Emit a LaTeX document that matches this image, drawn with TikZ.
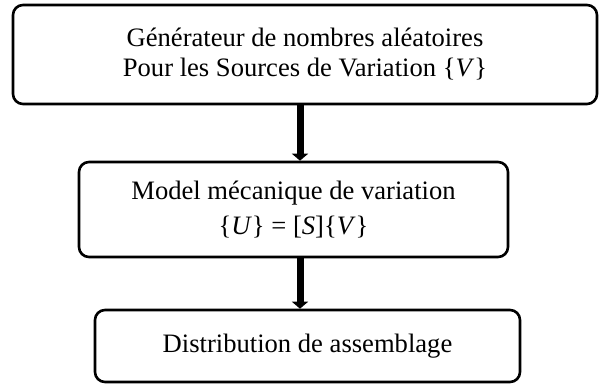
\documentclass[tikz,border=0pt]{standalone}
\usepackage{fontspec}
\setmainfont{Liberation Serif}
\usetikzlibrary{arrows.meta}
\begin{document}
\begin{tikzpicture}
[boxdecorate/.style={shape=rectangle,rounded corners=5pt,draw,line width=1.3pt,%
    align=center,inner sep=0pt,font=\fontsize{13.3}{15}\selectfont},%
  arrowdecorate/.style={-{Triangle[width=8pt,length=3.5pt]},line width=3.5pt},%
  x=1pt,y=1pt]
\useasboundingbox (0,0) rectangle (300.5,192.5);
%% nodes or boxes
\foreach \nodename/\x/\y/\w/\h/\boxtext in {
  gen/152.5/165.25/292/49.5/{Générateur de nombres aléatoires\\Pour les Sources de Variation \{\textit{V}\}},
  model/146.75/87.75/214.5/47.5/{Model mécanique de variation\\[2.5pt]\{\textit{U}\} = [\textit{S}]\{\textit{V}\}},
  dist/153.75/19.5/212.5/36/{Distribution de assemblage}} {
  \node (\nodename) at (\x,\y) [boxdecorate,minimum width=\w pt,minimum height=\h pt] {\boxtext};
}
\coordinate (arrowx) at (150,0);
%% arrows between boxes
\path
\foreach \startnode/\endnode in {gen/model, model/dist} {
  (\startnode.south -| arrowx) edge[arrowdecorate] (\endnode.north -| arrowx)
};
\end{tikzpicture}
\end{document}
